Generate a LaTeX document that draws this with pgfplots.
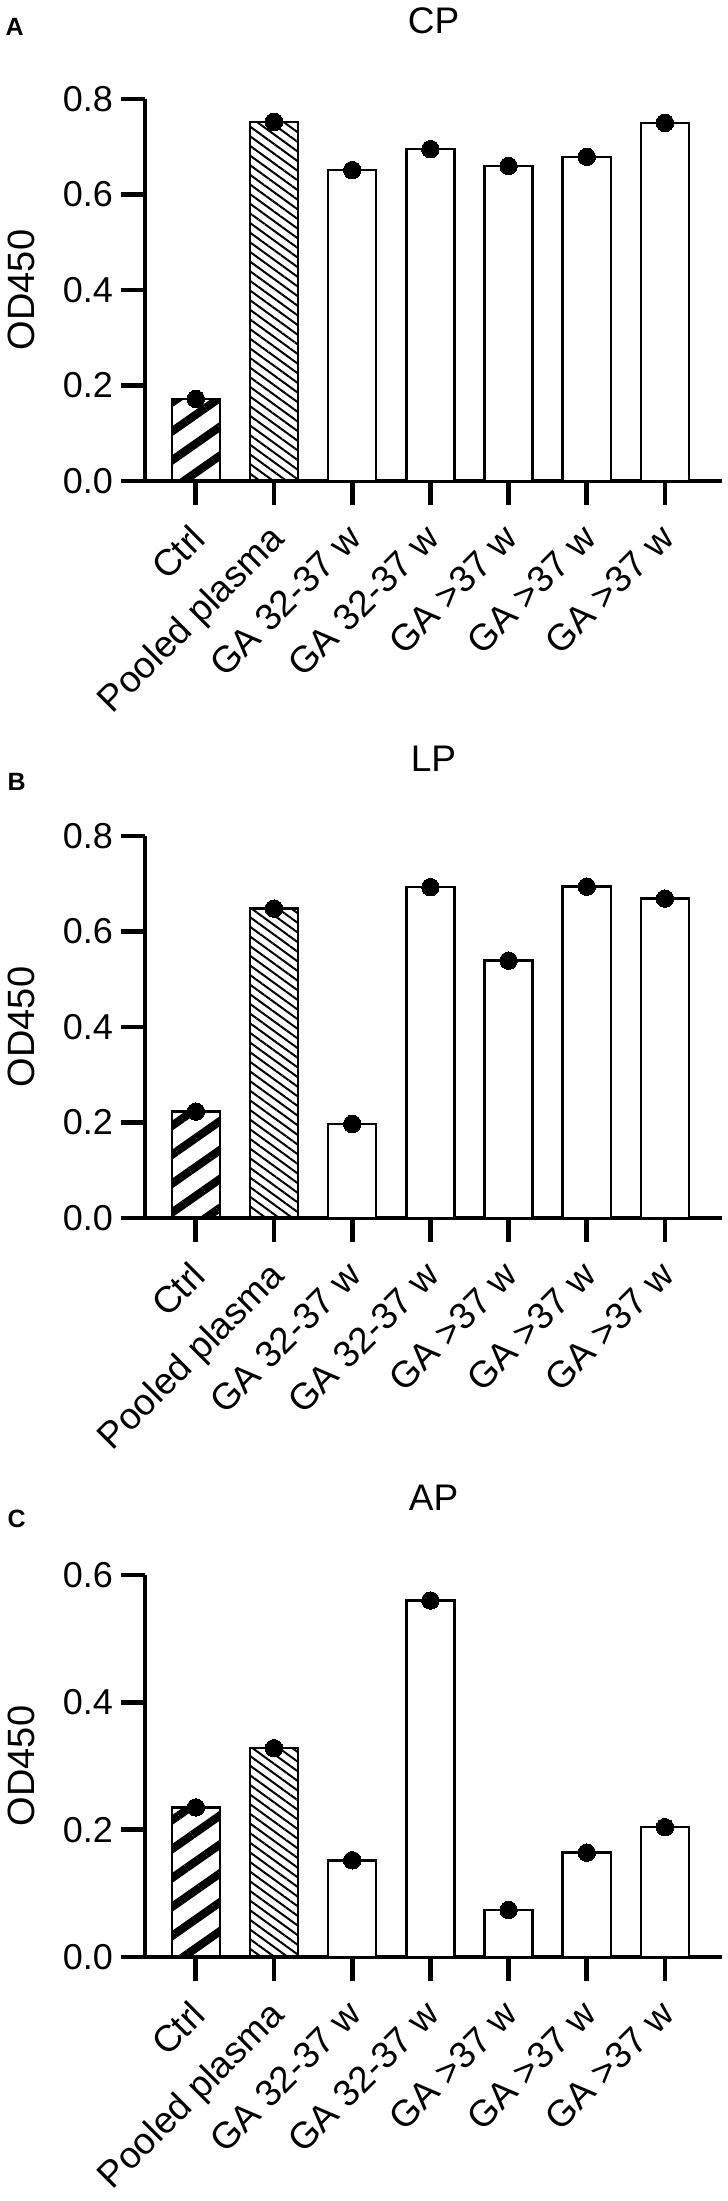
\documentclass[border=0pt]{standalone}
\usepackage{fontspec}
\setmainfont{Liberation Sans}
\usepackage{pgfplots}
\pgfplotsset{compat=1.18}
\usetikzlibrary{patterns.meta}

\newcommand{\fs}{\fontsize{36}{40}\selectfont}
\newcommand{\fx}{\fontsize{37}{40}\selectfont}
\newcommand{\ft}{\fontsize{37}{40}\selectfont}
\newcommand{\fy}{\fontsize{38}{40}\selectfont}
\newcommand{\fl}{\fontsize{25}{28}\selectfont\bfseries}

\pgfplotsset{
  panel/.style={
    scale only axis, width=577pt, height=382pt,
    xmin=-0.65, xmax=6.73, ymin=0,
    axis lines=left,
    axis line style={line width=4.7pt, -, black},
    tick align=outside,
    major tick length=24pt,
    every tick/.style={line width=4.7pt, black},
    xtick={0,1,2,3,4,5,6},
    xticklabels={Ctrl, Pooled plasma, GA 32-37 w, GA 32-37 w, GA >37 w, GA >37 w, GA >37 w},
    xticklabel style={xshift=-7pt, yshift=-17pt, rotate=45, anchor=north east, inner sep=0pt, font=\fx},
    yticklabel style={xshift=-8pt, font=\fs, inner sep=0pt, /pgf/number format/.cd, fixed, fixed zerofill, precision=1, assume math mode=true},
    clip=false,
  },
  ctrlbar/.style={ybar, bar shift=0pt, bar width=0.615, draw=black, line width=2.5pt,
    pattern={Lines[angle=35, distance=23.7pt, line width=8.2pt]}, pattern color=black},
  poolbar/.style={ybar, bar shift=0pt, bar width=0.615, draw=black, line width=2.5pt,
    pattern={Lines[angle=-36, distance=7.8pt, line width=2pt]}, pattern color=black},
  plainbar/.style={ybar, bar shift=0pt, bar width=0.615, draw=black, line width=2.5pt, fill=white},
  dots/.style={only marks, mark=*, mark size=8.75pt, black, mark options={fill=black, line width=0pt}},
}

\begin{document}
\begin{tikzpicture}
\path[use as bounding box] (0,0) rectangle (728pt,-2201pt);

% ---------- Panel A: CP ----------
\begin{axis}[panel, at={(145pt,-481pt)}, anchor=south west,
  ymax=0.8, ytick={0,0.2,0.4,0.6,0.8}]
\addplot[ctrlbar] coordinates {(0,0.172)};
\addplot[poolbar] coordinates {(1,0.752)};
\addplot[plainbar] coordinates {(2,0.651) (3,0.695) (4,0.660) (5,0.679) (6,0.750)};
\addplot[dots] coordinates {(0,0.172) (1,0.752) (2,0.651) (3,0.695) (4,0.660) (5,0.679) (6,0.750)};
\node[anchor=base, font=\ft] at ([yshift=66pt]rel axis cs:0.5,1) {CP};
\node[anchor=base west, font=\fl] at ([xshift=-143pt,yshift=64pt]rel axis cs:0,1) {A};
\node[rotate=90, font=\fy] at ([xshift=-124pt]rel axis cs:0,0.5) {OD450};
\end{axis}

% ---------- Panel B: LP ----------
\begin{axis}[panel, at={(145pt,-1218pt)}, anchor=south west,
  ymax=0.8, ytick={0,0.2,0.4,0.6,0.8}]
\addplot[ctrlbar] coordinates {(0,0.223)};
\addplot[poolbar] coordinates {(1,0.648)};
\addplot[plainbar] coordinates {(2,0.197) (3,0.693) (4,0.539) (5,0.694) (6,0.669)};
\addplot[dots] coordinates {(0,0.223) (1,0.648) (2,0.197) (3,0.693) (4,0.539) (5,0.694) (6,0.669)};
\node[anchor=base, font=\ft] at ([yshift=65pt]rel axis cs:0.5,1) {LP};
\node[anchor=base west, font=\fl] at ([xshift=-141pt,yshift=46pt]rel axis cs:0,1) {B};
\node[rotate=90, font=\fy] at ([xshift=-124pt]rel axis cs:0,0.5) {OD450};
\end{axis}

% ---------- Panel C: AP ----------
\begin{axis}[panel, at={(145pt,-1957pt)}, anchor=south west,
  ymax=0.6, ytick={0,0.2,0.4,0.6}]
\addplot[ctrlbar] coordinates {(0,0.235)};
\addplot[poolbar] coordinates {(1,0.328)};
\addplot[plainbar] coordinates {(2,0.152) (3,0.560) (4,0.074) (5,0.164) (6,0.204)};
\addplot[dots] coordinates {(0,0.235) (1,0.328) (2,0.152) (3,0.560) (4,0.074) (5,0.164) (6,0.204)};
\node[anchor=base, font=\ft] at ([yshift=65pt]rel axis cs:0.5,1) {AP};
\node[anchor=base west, font=\fl] at ([xshift=-141pt,yshift=48pt]rel axis cs:0,1) {C};
\node[rotate=90, font=\fy] at ([xshift=-124pt]rel axis cs:0,0.5) {OD450};
\end{axis}
\end{tikzpicture}
\end{document}
